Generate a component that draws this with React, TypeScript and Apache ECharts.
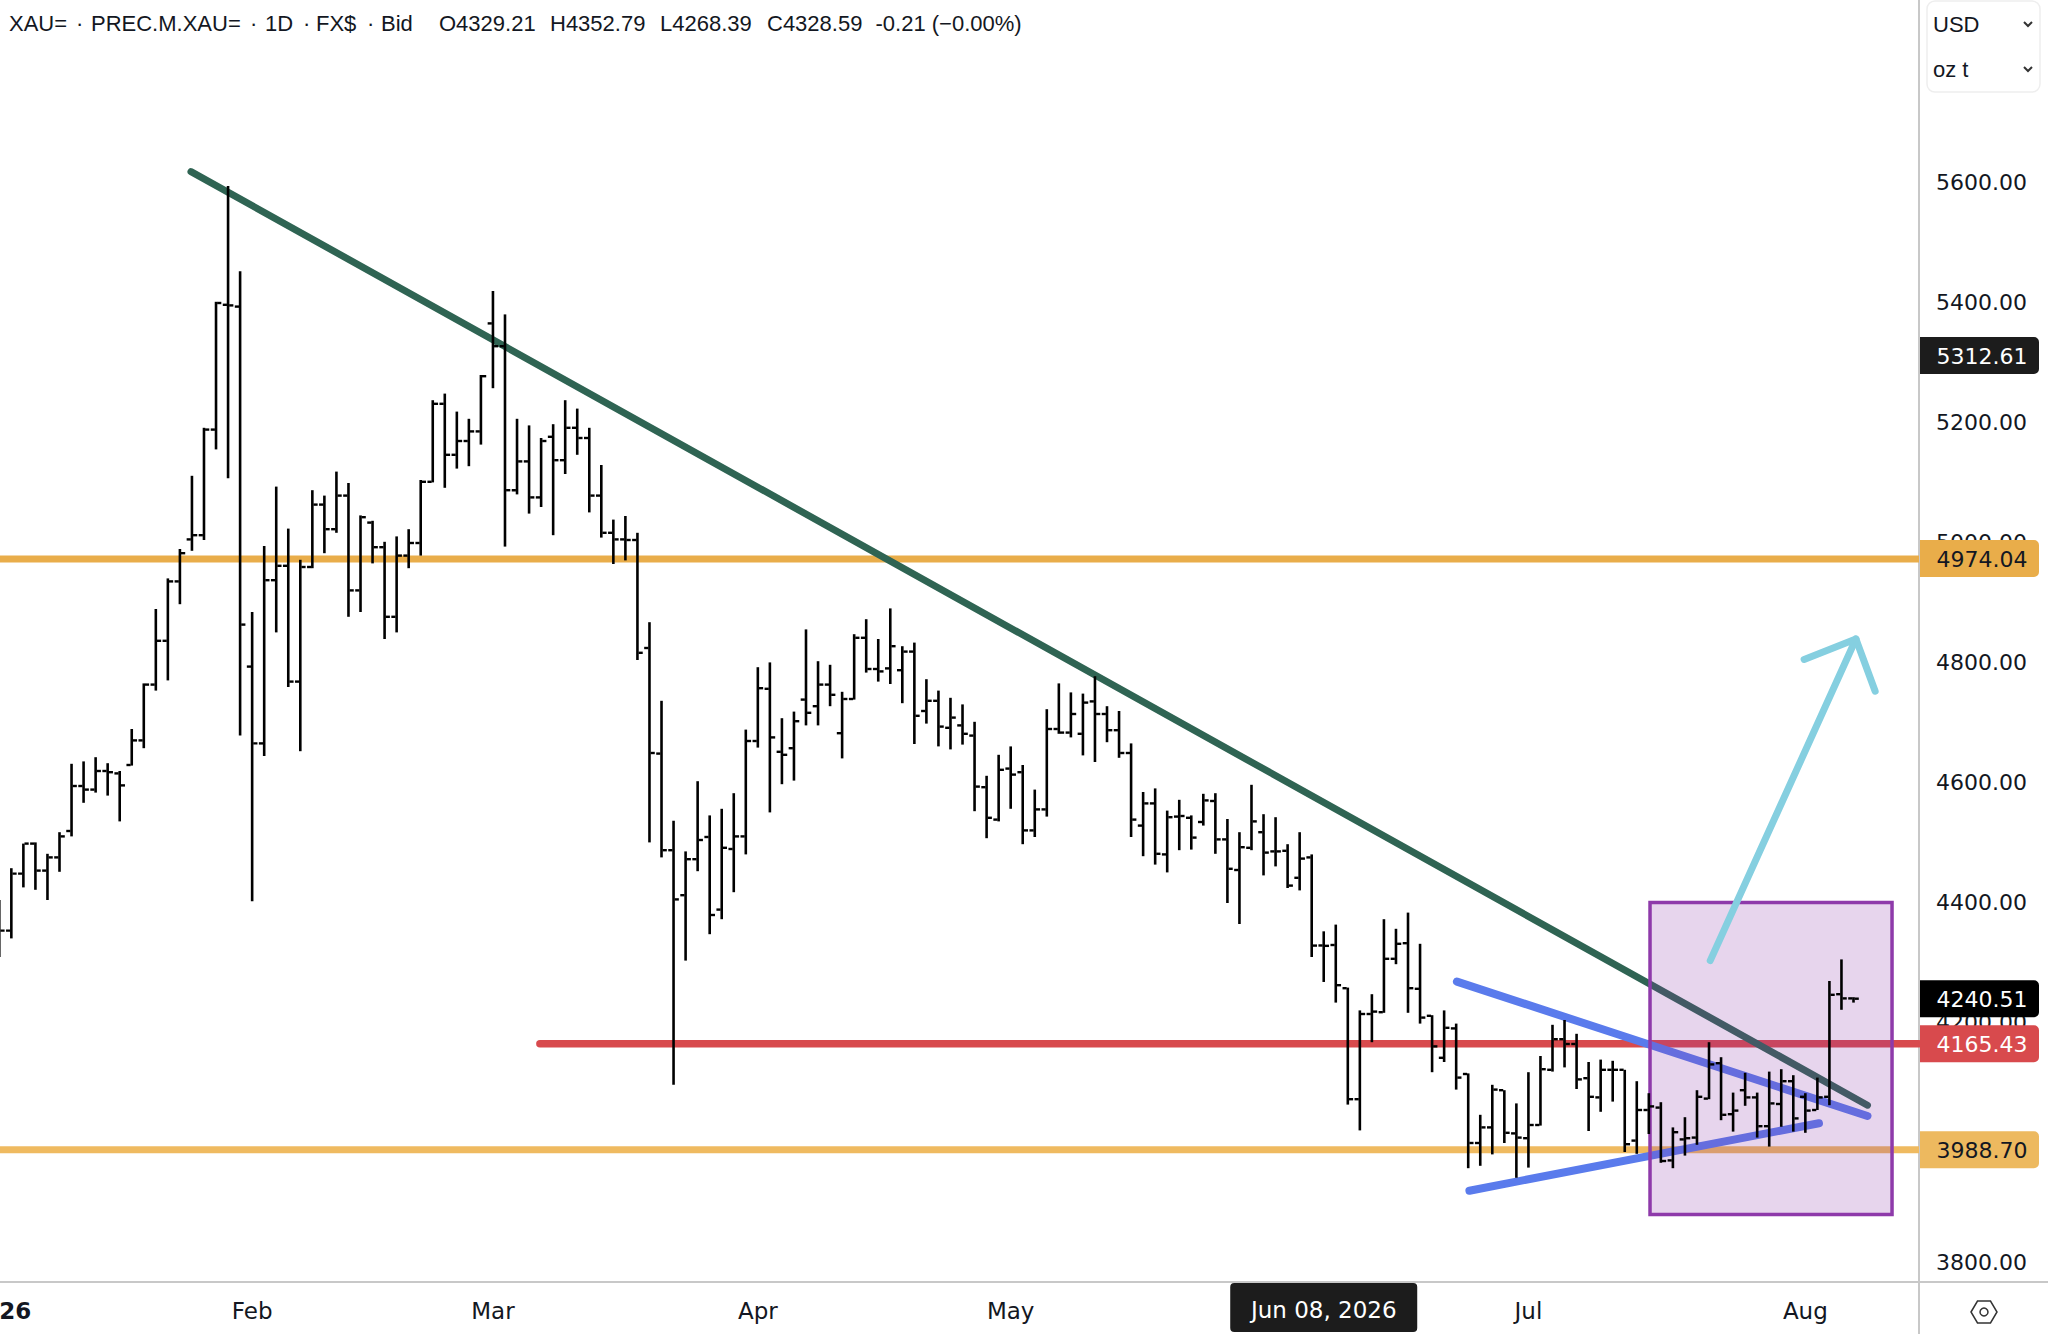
import React, { useEffect, useRef } from "react";
import * as echarts from "echarts";

const opens = [4330,4354,4449,4499,4454,4476,4520,4595,4589,4620,4616,4630,4671,4764,4837,4936,5006,5013,5189,5397,5394,4794,4666,4938,4962,4769,4960,5064,5023,5079,4921,5034,4993,4877,4979,5000,5102,5232,5147,5170,5186,5366,5328,5088,5136,5076,5177,5138,5192,5175,5079,5017,5006,5005,4825,4649,4488,4413,4473,4510,4389,4490,4511,4670,4757,4652,4658,4739,4728,4764,4683,4740,4842,4790,4791,4788,4819,4720,4737,4692,4696,4679,4593,4539,4624,4618,4521,4556,4690,4684,4682,4736,4715,4688,4650,4529,4566,4481,4544,4542,4535,4570,4506,4455,4492,4518,4486,4487,4442,4476,4329.21,4330,4258,4073,4215,4218,4307,4333,4257,4212,4142,4191,4115,4000,4026,4088,4016,4008,4030,4122,4173,4165,4108,4076,4122,4122,4004,4055,4059,3971,4006,4009,4074,4133,4048,4088,4076,4028,4065,4103,4077,4055,4077,4248,4241];
const highs = [4405,4458,4499,4501,4482,4518,4632,4636,4643,4633,4620,4690,4766,4890,4941,4990,5112,5192,5402,5595,5453,4885,4995,5094,5024,4972,5088,5079,5119,5100,5046,5037,5002,5011,5023,5105,5238,5249,5219,5207,5280,5420,5381,5207,5196,5175,5198,5238,5224,5192,5130,5039,5045,5017,4868,4737,4537,4486,4603,4546,4557,4583,4689,4793,4801,4708,4719,4856,4803,4797,4752,4848,4873,4840,4891,4828,4834,4773,4754,4742,4731,4702,4612,4647,4661,4630,4589,4723,4766,4751,4749,4778,4728,4720,4666,4585,4591,4554,4572,4546,4582,4583,4540,4518,4597,4548,4543,4498,4518,4481,4352.79,4364,4259,4221,4248,4373,4357,4384,4332,4213,4221,4199,4116,4047,4097,4088,4066,4118,4145,4197,4205,4182,4135,4139,4137,4122,4103,4083,4068,4026,4043,4088,4168,4143,4084,4117,4084,4119,4123,4113,4083,4109,4270,4306,4243];
const lows = [4310,4341,4426,4422,4405,4452,4511,4567,4584,4579,4536,4629,4658,4754,4771,4898,4987,5005,5156,5108,4679,4403,4645,4851,4760,4653,4958,4983,5017,4877,4885,4966,4840,4851,4958,4979,5101,5092,5124,5128,5164,5258,4994,5081,5049,5060,5013,5115,5147,5051,5009,4965,4971,4805,4501,4476,4097,4304,4453,4348,4373,4418,4481,4659,4551,4598,4604,4696,4696,4728,4641,4739,4784,4769,4765,4733,4665,4699,4661,4656,4664,4553,4508,4536,4557,4498,4510,4544,4682,4676,4646,4635,4668,4642,4510,4478,4464,4451,4488,4489,4529,4482,4400,4365,4488,4446,4461,4425,4421,4310,4268.39,4234,4064,4021,4168,4217,4298,4217,4199,4118,4135,4089,3958,3962,3981,4000,3942,3959,4029,4119,4126,4090,4020,4052,4069,3985,3982,4015,3967,3958,3979,3997,4073,4038,4019,4062,4009,3994,4027,4019,4017,4055,4063,4222,4234];
const closes = [4354,4449,4499,4454,4476,4511,4595,4589,4620,4618,4596,4671,4764,4837,4936,4983,5013,5189,5400,5396,4864,4666,4938,4962,4769,4960,5064,5023,5079,4921,5043,4993,4877,4979,5000,5102,5232,5147,5170,5186,5278,5328,5088,5136,5076,5170,5138,5192,5175,5079,5017,5006,5005,4817,4650,4488,4406,4473,4505,4380,4492,4511,4670,4758,4676,4647,4703,4717,4764,4747,4740,4842,4790,4786,4828,4819,4712,4737,4694,4709,4682,4594,4542,4622,4614,4521,4556,4690,4684,4715,4734,4715,4688,4650,4539,4566,4482,4543,4545,4509,4571,4506,4457,4493,4536,4484,4486,4429,4474,4329,4328.59,4263,4073,4215,4219,4307,4332,4258,4209,4161,4192,4109,4000,4026,4089,4017,4009,4030,4123,4173,4165,4106,4077,4122,4122,3998,4055,4061,3970,4018,4008,4077,4131,4047,4054,4076,4028,4066,4103,4041,4054,4076,4247,4241,4240.51];

const priceTicks = [3800,4000,4200,4400,4600,4800,5000,5200,5400,5600];
const monthIndex = [0,21,41,63,84,127,150];
const monthNames = ["2026","Feb","Mar","Apr","May","Jul","Aug"];

const tagPrices = [5312.61,4974.04,4240.51,4165.43,3988.70];
const crosshairIndex = [110];
const crosshairLabel = "Jun 08, 2026";

const resistance = 4973.5;
const pivot = 4165.43;
const support = 3988.70;
const pivotStart = 44.9;
const greenLine = [[15.92,5619],[155.16,4063]];
const blueUpper = [[121.06,4269],[155.16,4045]];
const blueLower = [[122.1,3920.5],[151.13,4033]];
const arrowShaft = [[142.1,4304],[154.2,4840]];
const arrowHead = [[149.9,4806],[154.2,4840],[155.8,4753]];
const zoneBox = [137.1,157.2,4400.7,3881];

const X_MAX = 159.44;
const Y_MIN = 3768.33;
const Y_MAX = 5905;
const MONO = '"DejaVu Sans"';
const SANS = '"Liberation Sans"';
const INK = "#131722";

const tagFills = ["#1c1c1c","#e9ad4a","#000000","#d84a4d","#edb95f"];
const tagInks = ["#ffffff","#131722","#ffffff","#ffffff","#131722"];

function renderBar(params: any, api: any) {
  const k = api.value(0);
  const [x, yO] = api.coord([k, api.value(1)]);
  const yH = api.coord([k, api.value(2)])[1];
  const yL = api.coord([k, api.value(3)])[1];
  const yC = api.coord([k, api.value(4)])[1];
  const fill = { fill: "#000000" };
  return {
    type: "group",
    children: [
      { type: "rect", shape: { x: x - 1.3, y: yH, width: 2.6, height: yL - yH }, style: fill },
      { type: "rect", shape: { x: x - 5.3, y: yO - 1.2, width: 4.2, height: 2.4 }, style: fill },
      { type: "rect", shape: { x: x + 1.1, y: yC - 1.2, width: 4.2, height: 2.4 }, style: fill },
    ],
  };
}

function renderZone(params: any, api: any) {
  const a = api.coord([api.value(0), api.value(2)]);
  const b = api.coord([api.value(1), api.value(3)]);
  return {
    type: "rect",
    shape: { x: a[0], y: a[1], width: b[0] - a[0], height: b[1] - a[1] },
    style: { fill: "rgba(142,58,170,0.21)", stroke: "#8e3aaa", lineWidth: 3.5 },
  };
}

function renderTag(params: any, api: any) {
  const i = params.dataIndex;
  const price = api.value(1);
  const y = api.coord([0, price])[1];
  const left = params.coordSys.x + params.coordSys.width + 1;
  return {
    type: "group",
    children: [
      { type: "rect", shape: { x: left, y: y - 18.5, width: 119, height: 37, r: [0, 5, 5, 0] }, style: { fill: tagFills[i] } },
      { type: "text", style: { x: left + 62, y: y + 1, text: price.toFixed(2), fill: tagInks[i], font: `22px ${MONO}`, align: "center", verticalAlign: "middle" } },
    ],
  };
}

function renderCrosshair(params: any, api: any) {
  const x = api.coord([api.value(0), Y_MIN])[0];
  const top = params.coordSys.y + params.coordSys.height + 1;
  return {
    type: "group",
    children: [
      { type: "rect", shape: { x: x - 93.5, y: top, width: 187, height: 49, r: 4 }, style: { fill: "#1c1c1c" } },
      { type: "text", style: { x, y: top + 27, text: crosshairLabel, fill: "#ffffff", font: `23px ${MONO}`, align: "center", verticalAlign: "middle" } },
    ],
  };
}

function seg(name: string, data: number[][], color: string, width: number, z: number, cap = "round") {
  return {
    name,
    type: "line",
    data,
    z,
    symbol: "none",
    silent: true,
    lineStyle: { color, width, cap, join: "round" },
  };
}

function headerText(text: string, x: number) {
  return {
    type: "text",
    x,
    y: 23,
    z: 50,
    style: { text, fill: INK, font: `22px ${SANS}`, verticalAlign: "middle" },
  };
}

function chevron(x: number, y: number) {
  return {
    type: "polyline",
    z: 50,
    shape: { points: [[x - 4, y - 2], [x, y + 2], [x + 4, y - 2]] },
    style: { stroke: "#333333", lineWidth: 2, fill: "none" },
  };
}

export default function App() {
  const ref = useRef<HTMLDivElement>(null);
  useEffect(() => {
    const chart = echarts.init(ref.current!, undefined, { renderer: "svg" });
    chart.setOption({
      animation: false,
      backgroundColor: "#ffffff",
      grid: { left: -0.7, top: 0, width: 1919.7, height: 1282, outerBoundsMode: "none" },
      xAxis: {
        type: "value",
        min: 0,
        max: X_MAX,
        splitLine: { show: false },
        axisLine: { onZero: false, lineStyle: { color: "#c8c8c8", width: 2 } },
        axisTick: { show: false },
        axisLabel: {
          customValues: monthIndex,
          margin: 17,
          color: INK,
          fontFamily: MONO,
          fontSize: 23,
          formatter: (v: number) => {
            const name = monthNames[monthIndex.indexOf(v)] ?? "";
            return v === 0 ? `{b|${name}}` : name;
          },
          rich: { b: { fontFamily: MONO, fontSize: 23, fontWeight: "bold", color: INK } },
        },
      },
      yAxis: {
        type: "value",
        position: "right",
        min: Y_MIN,
        max: Y_MAX,
        splitLine: { show: false },
        axisLine: { show: true, onZero: false, lineStyle: { color: "#c8c8c8", width: 2 } },
        axisTick: { show: false },
        axisLabel: {
          customValues: priceTicks,
          margin: 17,
          padding: [5, 0, 0, 0],
          color: INK,
          fontFamily: MONO,
          fontSize: 22,
          formatter: (v: number) => v.toFixed(2),
        },
      },
      series: [
        seg("Resistance", [[0, resistance], [X_MAX, resistance]], "#e9ad4a", 7, 2, "butt"),
        seg("Support", [[0, support], [X_MAX, support]], "#efba60", 7, 2, "butt"),
        seg("Pivot", [[pivotStart, pivot], [X_MAX, pivot]], "#d84a4d", 7.5, 2),
        seg("Falling trend", greenLine, "#2f6453", 7, 2),
        seg("Upper wedge", blueUpper, "#5a7bec", 8, 2),
        seg("Lower wedge", blueLower, "#5a7bec", 8, 2),
        { type: "custom", name: "Zone", z: 3, silent: true, renderItem: renderZone, data: [zoneBox], encode: { x: [0, 1], y: [2, 3] } },
        {
          type: "custom",
          name: "XAU=",
          z: 4,
          silent: true,
          clip: true,
          renderItem: renderBar,
          encode: { x: 0, y: [1, 2, 3, 4] },
          data: opens.map((o, k) => [k, o, highs[k], lows[k], closes[k]]),
        },
        seg("Target shaft", arrowShaft, "#85cfe0", 7, 5),
        seg("Target head", arrowHead, "#85cfe0", 7, 5),
        {
          type: "custom",
          name: "Tags",
          z: 10,
          silent: true,
          renderItem: renderTag,
          encode: { x: 0, y: 1 },
          data: tagPrices.map((p, i) => [i, p]),
        },
        {
          type: "custom",
          name: "Crosshair",
          z: 10,
          silent: true,
          renderItem: renderCrosshair,
          encode: { x: 0 },
          data: crosshairIndex.map((k) => [k]),
        },
      ],
      graphic: [
        headerText("XAU=", 9),
        headerText("·", 76),
        headerText("PREC.M.XAU=", 91),
        headerText("·", 250),
        headerText("1D", 265),
        headerText("·", 303),
        headerText("FX$", 316),
        headerText("·", 367),
        headerText("Bid", 381),
        headerText("O4329.21", 439),
        headerText("H4352.79", 550),
        headerText("L4268.39", 660),
        headerText("C4328.59", 767),
        headerText("-0.21 (−0.00%)", 875.5),
        { type: "rect", z: 49, shape: { x: 1927, y: 1, width: 113, height: 91, r: 8 }, style: { fill: "#ffffff", stroke: "#eeeeee", lineWidth: 1.5 } },
        { type: "text", z: 50, x: 1933, y: 24, style: { text: "USD", fill: INK, font: `22px ${SANS}`, verticalAlign: "middle" } },
        { type: "text", z: 50, x: 1933, y: 69, style: { text: "oz t", fill: INK, font: `22px ${SANS}`, verticalAlign: "middle" } },
        chevron(2028, 24),
        chevron(2028, 69),
        { type: "line", z: 50, shape: { x1: 1919, y1: 1282, x2: 1919, y2: 1334 }, style: { stroke: "#c8c8c8", lineWidth: 2 } },
        { type: "line", z: 50, shape: { x1: 1919, y1: 1282, x2: 2048, y2: 1282 }, style: { stroke: "#c8c8c8", lineWidth: 2 } },
        { type: "polygon", z: 50, shape: { points: [[1971, 1312], [1977.5, 1301], [1990.5, 1301], [1997, 1312], [1990.5, 1323], [1977.5, 1323]] }, style: { fill: "none", stroke: "#333333", lineWidth: 1.5 } },
        { type: "circle", z: 50, shape: { cx: 1984, cy: 1312, r: 4 }, style: { fill: "none", stroke: "#333333", lineWidth: 1.5 } },
      ],
    });
    return () => chart.dispose();
  }, []);
  return <div ref={ref} style={{ position: "fixed", left: 0, top: 0, width: 2048, height: 1334 }} />;
}
